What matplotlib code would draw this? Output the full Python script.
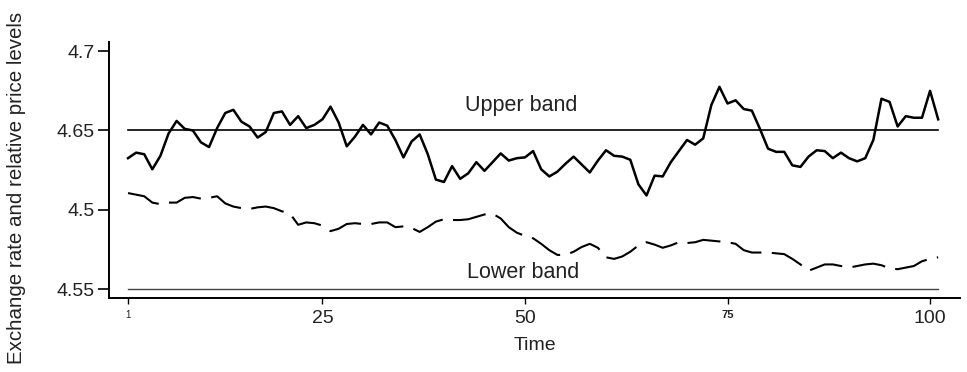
import matplotlib
matplotlib.use('Agg')
import matplotlib.pyplot as plt
import numpy as np

# ================== Global parameters for fonts & sizes =================
font_size = 14
plt.rcParams.update({'font.family': ['Liberation Sans', 'DejaVu Sans'], 'font.size': font_size})
fontdict = {'fontsize': font_size}

# %% ======================= data ==========================================
# y positions are in "tick units" x100 (0 = lowest tick, 300 = top tick)
time = np.arange(1, 102)
exchange_rate = [165, 172, 170, 151, 168, 196, 212, 202, 200, 185,
                 179, 203, 222, 226, 211, 205, 191, 198, 222, 224,
                 207, 218, 203, 207, 214, 230, 210, 180, 192, 207,
                 195, 210, 206, 188, 166, 186, 195, 170, 138, 135,
                 155, 139, 146, 160, 149, 160, 171, 162, 165, 166,
                 174, 151, 142, 148, 158, 167, 157, 147, 162, 175,
                 168, 167, 163, 132, 118, 143, 142, 160, 174, 188,
                 182, 190, 232, 255, 234, 238, 227, 225, 202, 177,
                 173, 173, 156, 154, 167, 175, 174, 165, 172, 165,
                 161, 165, 188, 240, 236, 205, 218, 216, 216, 250,
                 214]
relative_price = [121, 119, 117, 109, 107, 109, 109, 115, 116, 114,
                  115, 117, 108, 104, 102, 101, 103, 104, 102, 98,
                  95, 81, 84, 83, 80, 73, 76, 82, 83, 82,
                  82, 84, 84, 78, 79, 77, 72, 78, 85, 88,
                  87, 87, 88, 91, 94, 95, 89, 78, 71, 67,
                  64, 57, 49, 43, 43, 47, 53, 57, 52, 40,
                  38, 41, 47, 55, 59, 56, 52, 55, 59, 58,
                  59, 62, 61, 60, 59, 57, 49, 46, 46, 46,
                  45, 44, 38, 31, 23, 27, 31, 31, 29, 27,
                  29, 31, 32, 30, 26, 25, 27, 29, 35, 38,
                  40]
upper_band = 200
lower_band = 0
band_span = [1, 101]

y_ticks = [0, 100, 200, 300]
y_tick_labels = ['4.55', '4.5', '4.65', '4.7']
x_ticks = [1, 25, 50, 75, 100]
x_tick_labels = ['1', '25', '50', '75', '100']

# %% =======================================
fig = plt.figure(figsize=(9.67, 3.72), dpi=100)
ax = fig.add_axes([0.1127, 0.199, 0.8801, 0.688])

ax.plot(time, exchange_rate, '-', color='black', lw=1.8)
ax.plot(time, relative_price, color='black', lw=1.5, dashes=(16, 5))
ax.plot(band_span, [upper_band, upper_band], color='black', lw=1.2)
ax.plot(band_span, [lower_band, lower_band], color='#444444', lw=1.0)

ax.text(49.5, 232, 'Upper band', ha='center', va='center', fontsize=15.5, color='#222222')
ax.text(49.8, 21, 'Lower band', ha='center', va='center', fontsize=15.5, color='#222222')

ax.set_xlim(-1.35, 103.7)
ax.set_ylim(-11.3, 311.5)
ax.set_yticks(y_ticks)
ax.set_yticklabels(y_tick_labels)
ax.set_xticks(x_ticks)
ax.set_xticklabels(x_tick_labels)
ax.get_xticklabels()[0].set_fontsize(7)
ax.get_xticklabels()[3].set_fontsize(8)
ax.get_xticklabels()[3].set_fontweight('bold')
ax.tick_params(axis='both', labelcolor='#222222')
ax.tick_params(axis='y', direction='out', length=8, width=1.2, pad=2)
ax.tick_params(axis='x', direction='out', length=4, width=1.0, pad=5)

for side in ['top', 'right']:
    ax.spines[side].set_visible(False)
for side in ['left', 'bottom']:
    ax.spines[side].set_linewidth(1.4)

ax.set_xlabel('Time', labelpad=7, color='#222222', **fontdict)
ax.set_ylabel('Exchange rate and relative price levels', fontsize=14.8, color='#222222')
ax.yaxis.set_label_coords(-0.098, 0.43)

fig.savefig('out.png', dpi=100)
